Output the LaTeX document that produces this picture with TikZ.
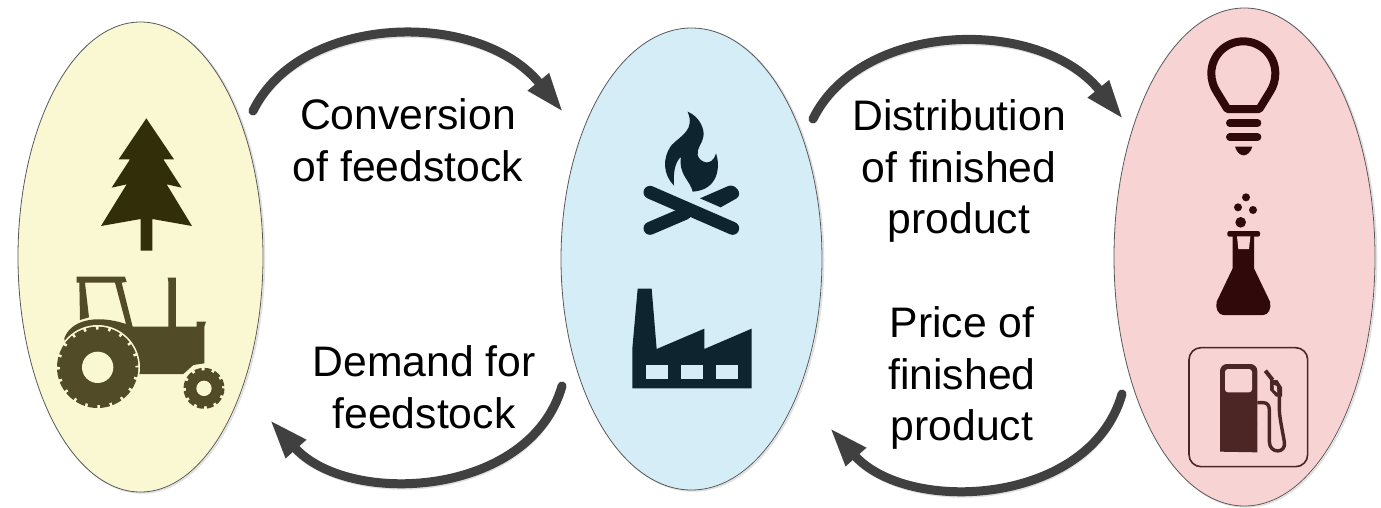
\documentclass[tikz,border=0pt]{standalone}
\usepackage{fontspec}
\setmainfont{Liberation Sans}
\usetikzlibrary{shapes.geometric,arrows.meta}
\definecolor{yellowbg}{HTML}{F9F8D3}
\definecolor{bluebg}{HTML}{D5EDF7}
\definecolor{pinkbg}{HTML}{F8D3D3}
\definecolor{treecol}{HTML}{322E0A}
\definecolor{tractorcol}{HTML}{514B27}
\definecolor{firecol}{HTML}{0E2530}
\definecolor{labcol}{HTML}{300A0A}
\definecolor{pumpcol}{HTML}{4C2525}
\definecolor{arrowcol}{HTML}{404040}
\tikzset{
  zone/.style={ellipse,draw=black!65,line width=0.8pt,inner sep=0pt,outer sep=0pt,
    preaction={draw=black!12,line width=1.5pt,transform canvas={shift={(1.5,1)}}}},
  cycleflow/.style={draw=arrowcol,line width=9pt,line cap=round,
    -{Triangle[length=39pt,width=25pt]}},
  flowshadow/.style={draw=black!12,line width=9pt,line cap=round,
    -{Triangle[length=39pt,width=25pt]}},
  caption/.style={align=center,inner sep=0pt,text=black,
    font=\fontsize{42.7}{51.5}\selectfont},
  iconzoom/.style={x=0.33333pt,y=-0.33333pt}
}
\begin{document}
\begin{tikzpicture}[x=1pt,y=-1pt]
\useasboundingbox (0,0) rectangle (1381,507);
\fill[white] (0,0) rectangle (1381,507);

% zones
\node[zone,fill=yellowbg,minimum width=245pt,minimum height=470pt] (feed) at (140.5,257) {};
\node[zone,fill=bluebg,minimum width=261pt,minimum height=462pt] (conv) at (691.5,259) {};
\node[zone,fill=pinkbg,minimum width=261pt,minimum height=498pt] (prod) at (1244.5,257) {};

% connector ends
\coordinate (a1s) at (253,111); \coordinate (a1e) at (563,112);
\coordinate (a2s) at (562,386); \coordinate (a2e) at (270,420);
\coordinate (a3s) at (813,119); \coordinate (a3e) at (1123,119);
\coordinate (a4s) at (1122,394); \coordinate (a4e) at (830,428);

% connector shadows
\begin{scope}[shift={(1,2)}]
\draw[flowshadow] (a1s) .. controls (300,14) and (478,8) .. (a1e);
\draw[flowshadow] (a2s) .. controls (530,498) and (348,507) .. (a2e);
\draw[flowshadow] (a3s) .. controls (860,22) and (1038,15) .. (a3e);
\draw[flowshadow] (a4s) .. controls (1090,506) and (908,515) .. (a4e);
\end{scope}
% connectors
\draw[cycleflow] (a1s) .. controls (300,14) and (478,8) .. (a1e);
\draw[cycleflow] (a2s) .. controls (530,498) and (348,507) .. (a2e);
\draw[cycleflow] (a3s) .. controls (860,22) and (1038,15) .. (a3e);
\draw[cycleflow] (a4s) .. controls (1090,506) and (908,515) .. (a4e);

% labels
\node[caption] (l1) at (408,140) {Conversion\\of feedstock};
\node[caption] (l2) at (424,387) {Demand for\\feedstock};
\node[caption] (l3) at (959,171) {Distribution\\of finished\\product};
\node[caption] (l4) at (962,378) {Price of\\finished\\product};

% tree and tractor
\begin{scope}[shift={(20,100)},iconzoom]
\fill[treecol] (379,55) -- (462,178) -- (430,178) -- (485,263) -- (440,253) -- (516,378)
  -- (397,357) -- (397,452) -- (362,452) -- (362,357) -- (243,378) -- (320,253)
  -- (275,263) -- (330,178) -- (296,178) -- cycle;
% tractor body
\fill[tractorcol] (170,530) -- (315,530) -- (320,546) -- (305,548) -- (338,680) -- (445,680)
  -- (445,545) -- (443,533) -- (468,533) -- (468,680) -- (530,680) -- (530,665) -- (558,665)
  -- (553,680) -- (553,790) -- (520,795) -- (490,822) -- (365,822) -- (300,830) -- (140,760)
  -- (133,715) .. controls (150,665) and (220,640) .. (318,672) -- (285,548) -- (195,548)
  -- (207,652) -- (180,660) -- (178,548) -- (170,548) -- cycle;
% rear wheel
\fill[yellowbg] (233,802) circle[radius=127];
\fill[tractorcol] (233,802) circle[radius=113];
\draw[tractorcol,line width=4pt,dash pattern=on 9.5pt off 2.7pt] (233,802) circle[radius=116];
\fill[yellowbg] (233,802) circle[radius=47];
% front wheel
\fill[yellowbg] (552,865) circle[radius=70];
\fill[tractorcol] (552,865) circle[radius=54];
\draw[tractorcol,line width=3pt,dash pattern=on 7pt off 3pt] (552,865) circle[radius=57];
\fill[yellowbg] (552,865) circle[radius=23];
\end{scope}

% fire and factory
\begin{scope}[shift={(600,100)},iconzoom]
\fill[firecol] (263,35) .. controls (300,50) and (315,90) .. (310,110)
  .. controls (305,135) and (290,145) .. (293,165)
  .. controls (297,185) and (335,205) .. (348,160)
  .. controls (362,200) and (355,270) .. (278,275)
  .. controls (270,240) and (235,225) .. (243,170)
  .. controls (222,190) and (220,225) .. (222,257)
  .. controls (190,225) and (185,175) .. (215,135)
  .. controls (245,105) and (285,90) .. (263,35) -- cycle;
\draw[firecol,line width=13pt,line cap=round] (150,277) -- (398,385);
\draw[firecol,line width=13pt,line cap=round] (150,385) -- (255,340);
\fill[firecol] (300,295) -- (385,258) .. controls (405,250) and (430,280) .. (410,295)
  -- (362,322) -- cycle;
\fill[firecol] (97,865) -- (97,745) -- (113,566) -- (155,566) -- (170,747) -- (313,686)
  -- (313,747) -- (455,686) -- (455,865) -- cycle;
\fill[bluebg] (138,796) rectangle (203,837);
\fill[bluebg] (244,796) rectangle (308,837);
\fill[bluebg] (349,796) rectangle (414,837);
\end{scope}

% bulb and flask
\begin{scope}[shift={(1170,30)},iconzoom]
\draw[labcol,line width=8pt,line join=round] (140,185) .. controls (130,170) and (124,150) .. (124,130)
  .. controls (124,77) and (167,34) .. (220,34) .. controls (273,34) and (316,77) .. (316,130)
  .. controls (316,150) and (310,170) .. (300,185) -- (268,237) -- (172,237) -- cycle;
\draw[labcol,line width=7.3pt,line cap=round] (179,279) -- (263,279);
\draw[labcol,line width=7.3pt,line cap=round] (179,321) -- (263,321);
\fill[labcol] (195,350) -- (247,350) .. controls (242,368) and (230,376) .. (221,376)
  .. controls (212,376) and (200,368) .. (195,350) -- cycle;
\fill[labcol] (228,502) circle[radius=12];
\fill[labcol] (204,532) circle[radius=12];
\fill[labcol] (249,540) circle[radius=12];
\fill[labcol] (212,577) circle[radius=16];
\fill[labcol,rounded corners=2pt] (172,603) rectangle (270,620);
\fill[labcol] (188,610) -- (252,610) -- (252,715) -- (300,815)
  .. controls (305,835) and (295,855) .. (280,855) -- (160,855)
  .. controls (145,855) and (135,835) .. (140,815) -- (188,715) -- cycle;
\fill[pinkbg] (201,619) -- (241,619) -- (237,657) -- (205,657) -- cycle;
\end{scope}

% fuel pump
\begin{scope}[shift={(1170,330)},iconzoom]
\draw[pumpcol,line width=1.6pt,rounded corners=12pt] (57,53) rectangle (413,410);
\fill[pumpcol,rounded corners=7pt] (150,300) -- (150,102) -- (262,102) -- (262,300) -- cycle;
\fill[pumpcol] (150,280) -- (262,280) -- (262,367) -- (150,365) -- cycle;
\fill[pinkbg,rounded corners=3pt] (165,117) rectangle (246,187);
\draw[pumpcol,line width=3.4pt,line join=round]
  (262,218) -- (280,218) .. controls (293,218) and (298,228) .. (298,240) -- (298,335)
  .. controls (298,372) and (350,372) .. (343,335) .. controls (335,290) and (328,260) .. (328,235) -- (328,190);
\draw[pumpcol,line width=4pt] (286,122) -- (308,150);
\fill[pumpcol] (300,150) -- (322,150) -- (336,172) -- (336,200) -- (318,200) -- (300,180) -- cycle;
\fill[pinkbg] (311,165) -- (320,168) -- (322,188) -- (312,180) -- cycle;
\end{scope}
\end{tikzpicture}
\end{document}
